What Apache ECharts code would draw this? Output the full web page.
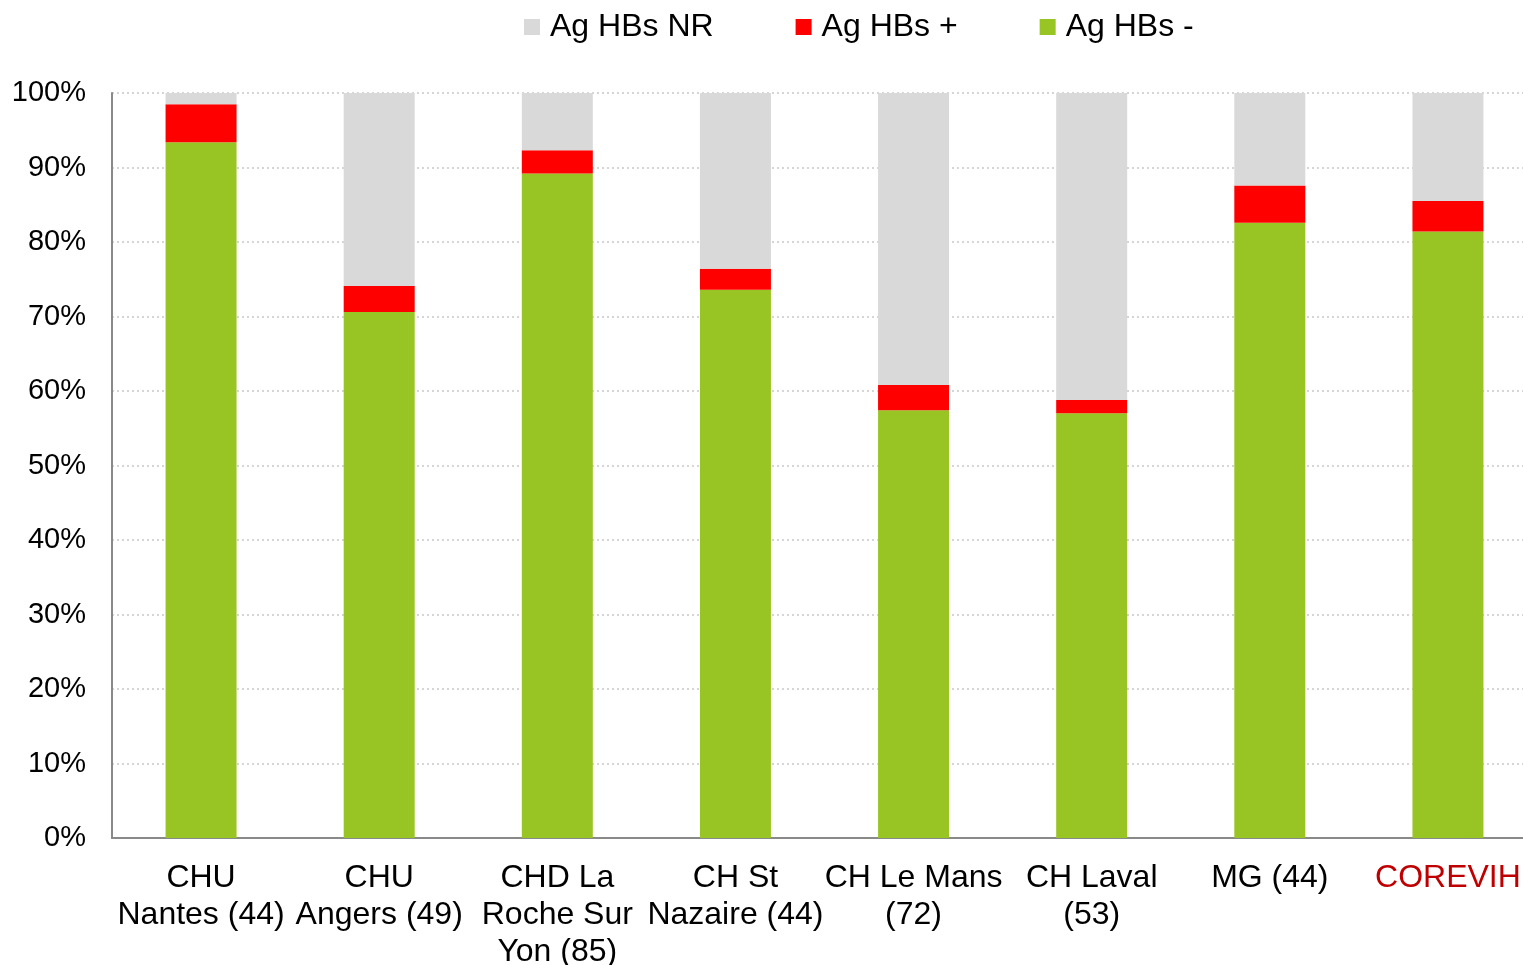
<!DOCTYPE html>
<html>
<head>
<meta charset="utf-8">
<script src="https://cdn.jsdelivr.net/npm/echarts@6/dist/echarts.min.js"></script>
<style>
html,body{margin:0;padding:0;background:#fff;overflow:hidden;}
#main{width:1523px;height:965px;}
</style>
</head>
<body>
<div id="main"></div>
<script>
var categories = ['CHU\nNantes (44)', 'CHU\nAngers (49)', 'CHD La\nRoche Sur\nYon (85)', 'CH St\nNazaire (44)', 'CH Le Mans\n(72)', 'CH Laval\n(53)', 'MG (44)', 'COREVIH'];
var agNeg = [93.4, 70.6, 89.2, 73.6, 57.4, 57.0, 82.6, 81.4];
var agPos = [5.1, 3.5, 3.1, 2.8, 3.4, 1.8, 5.0, 4.1];
var agNR = [1.5, 25.9, 7.7, 23.6, 39.2, 41.2, 12.4, 14.5];
var seriesNames = ['Ag HBs NR', 'Ag HBs +', 'Ag HBs -'];

var font = '"Liberation Sans", Arial, sans-serif';
var chart = echarts.init(document.getElementById('main'));
chart.setOption({
  animation: false,
  textStyle: {fontFamily: font},
  legend: {
    data: seriesNames,
    left: 519, top: 6,
    itemWidth: 16, itemHeight: 16, itemGap: 82,
    icon: 'rect',
    textStyle: {fontSize: 32, color: '#000', fontFamily: font, padding: [0, 0, 0, 5]}
  },
  grid: {left: 112, width: 1425, top: 93, bottom: 127, containLabel: false, outerBoundsMode: 'none'},
  xAxis: {
    type: 'category',
    data: categories,
    axisLine: {lineStyle: {color: '#898989', width: 2}},
    axisTick: {show: false},
    axisLabel: {
      interval: 0, fontSize: 32, color: '#000', lineHeight: 37, margin: 22, fontFamily: font,
      formatter: function (v) { return v === 'COREVIH' ? '{r|' + v + '}' : v; },
      rich: {r: {color: '#c00000', fontSize: 32, fontFamily: font, lineHeight: 37}}
    }
  },
  yAxis: {
    type: 'value', min: 0, max: 100, interval: 10,
    axisLine: {show: true, lineStyle: {color: '#898989', width: 2}},
    axisTick: {show: false},
    axisLabel: {formatter: '{value}%', fontSize: 29, color: '#000', margin: 26, fontFamily: font},
    splitLine: {lineStyle: {color: '#c8c8c8', type: [2, 3], width: 1.5}}
  },
  series: [
    {name: 'Ag HBs -', type: 'bar', stack: 'a', data: agNeg, barWidth: 71, itemStyle: {color: '#99c524'}},
    {name: 'Ag HBs +', type: 'bar', stack: 'a', data: agPos, barWidth: 71, itemStyle: {color: '#ff0000'}},
    {name: 'Ag HBs NR', type: 'bar', stack: 'a', data: agNR, barWidth: 71, itemStyle: {color: '#d9d9d9'}}
  ]
});
</script>
</body>
</html>
